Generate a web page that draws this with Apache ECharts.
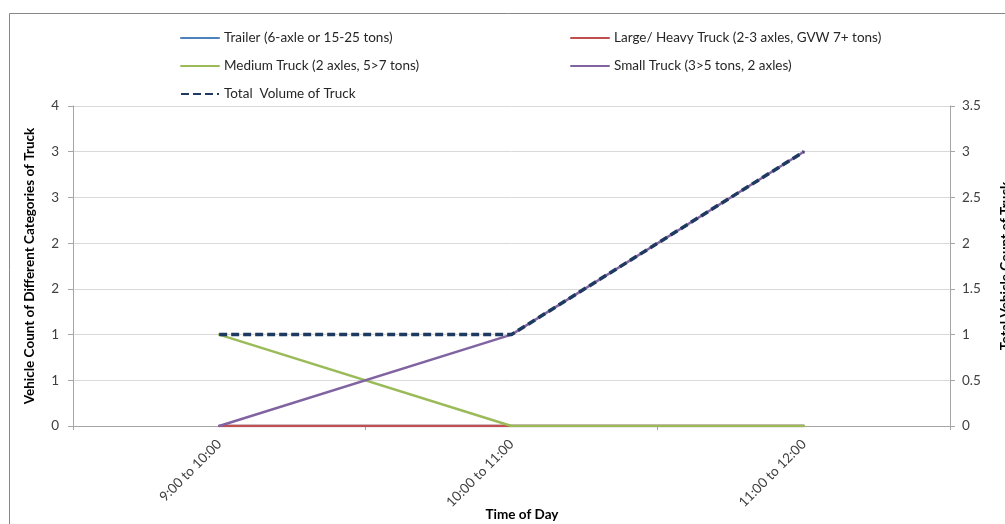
<!DOCTYPE html>
<html>
<head>
<meta charset="utf-8">
<script src="https://cdn.jsdelivr.net/npm/echarts@6/dist/echarts.min.js"></script>
<style>
  html, body { margin: 0; padding: 0; background: #fff; overflow: hidden; }
  #chart { width: 1005px; height: 524px; }
</style>
</head>
<body>
<div id="chart"></div>
<script>
// Hourly truck counts by category
const timeSlots = ['9:00 to 10:00', '10:00 to 11:00', '11:00 to 12:00'];
const trailer = [0, 0, 0];
const largeHeavy = [0, 0, 0];
const medium = [1, 0, 0];
const small = [0, 1, 3];
const totalVolume = [1, 1, 3];

const seriesNames = [
  'Trailer (6-axle or 15-25 tons)',
  'Large/ Heavy Truck (2-3 axles, GVW 7+ tons)',
  'Medium Truck (2 axles, 5>7 tons)',
  'Small Truck (3>5 tons, 2 axles)',
  'Total  Volume of Truck'
];

const FONT = 'Lato, "Liberation Sans", sans-serif';
const FS = 13.5;
const textColor = '#404040';
const axisGray = '#a6a6a6';
const gridGray = '#d9d9d9';

function legendAt(name, left, top) {
  return {
    data: [name],
    left: left,
    top: top,
    itemWidth: 38,
    itemHeight: 3,
    padding: 0,
    selectedMode: false,
    textStyle: { fontFamily: FONT, fontSize: FS, color: '#262626' },
    lineStyle: { type: 'inherit' },
    itemStyle: { opacity: 0 }
  };
}

function lineSeries(name, data, color, axis, dashed) {
  return {
    name: name,
    type: 'line',
    data: data,
    yAxisIndex: axis,
    symbol: 'none',
    showSymbol: false,
    lineStyle: dashed
      ? { color: color, width: 3.5, type: [8, 4], cap: 'butt', join: 'round' }
      : { color: color, width: 2.5, cap: 'round', join: 'round' },
    itemStyle: { color: color },
    emphasis: { disabled: true }
  };
}

const chart = echarts.init(document.getElementById('chart'), null, { renderer: 'canvas', width: 1005, height: 524 });

chart.setOption({
  animation: false,
  backgroundColor: '#ffffff',
  graphic: [{
    type: 'rect',
    shape: { x: 9.5, y: 13.5, width: 1010, height: 530 },
    style: { fill: 'none', stroke: '#868686', lineWidth: 1 },
    silent: true,
    z: 0
  }],
  legend: [
    legendAt(seriesNames[0], 180, 31),
    legendAt(seriesNames[1], 570, 31),
    legendAt(seriesNames[2], 180, 59),
    legendAt(seriesNames[3], 570, 59),
    legendAt(seriesNames[4], 180, 87)
  ],
  grid: {
    left: 73, right: 55, top: 106, bottom: 98,
    containLabel: false,
    outerBoundsMode: 'none'
  },
  xAxis: {
    type: 'category',
    data: timeSlots,
    boundaryGap: true,
    name: 'Time of Day',
    nameLocation: 'middle',
    nameGap: 82,
    nameMoveOverlap: false,
    nameTextStyle: { fontFamily: FONT, fontSize: FS, fontWeight: 'bold', color: '#000', padding: [0, 0, 0, 21] },
    axisLine: { lineStyle: { color: axisGray, width: 1 } },
    axisTick: { show: true, length: 4, lineStyle: { color: axisGray } },
    axisLabel: { rotate: 45, margin: 16, fontFamily: FONT, fontSize: FS, color: textColor },
    splitLine: { show: false }
  },
  yAxis: [
    {
      type: 'value',
      min: 0,
      max: 3.5,
      interval: 0.5,
      name: 'Vehicle Count of Different Categories of Truck',
      nameLocation: 'middle',
      nameRotate: 90,
      nameGap: 36,
      nameMoveOverlap: false,
      nameTextStyle: { fontFamily: FONT, fontSize: FS, fontWeight: 'bold', color: '#000' },
      axisLine: { show: true, lineStyle: { color: axisGray, width: 1 } },
      axisTick: { show: true, length: 5, lineStyle: { color: axisGray } },
      axisLabel: {
        margin: 14,
        fontFamily: FONT, fontSize: FS, color: textColor,
        formatter: v => String(Math.round(v))
      },
      splitLine: { show: true, lineStyle: { color: gridGray, width: 1 } }
    },
    {
      type: 'value',
      position: 'right',
      min: 0,
      max: 3.5,
      interval: 0.5,
      name: 'Total Vehicle Count of Truck',
      nameLocation: 'middle',
      nameRotate: 90,
      nameGap: 49,
      nameMoveOverlap: false,
      nameTextStyle: { fontFamily: FONT, fontSize: FS, fontWeight: 'bold', color: '#000' },
      axisLine: { show: true, lineStyle: { color: axisGray, width: 1 } },
      axisTick: { show: true, length: 5, lineStyle: { color: axisGray } },
      axisLabel: { margin: 12, fontFamily: FONT, fontSize: FS, color: textColor },
      splitLine: { show: false }
    }
  ],
  series: [
    lineSeries(seriesNames[0], trailer, '#4F81BD', 0, false),
    lineSeries(seriesNames[1], largeHeavy, '#C0504D', 0, false),
    lineSeries(seriesNames[2], medium, '#9BBB59', 0, false),
    lineSeries(seriesNames[3], small, '#8064A2', 0, false),
    lineSeries(seriesNames[4], totalVolume, '#1F3A60', 1, true)
  ]
});
</script>
</body>
</html>
